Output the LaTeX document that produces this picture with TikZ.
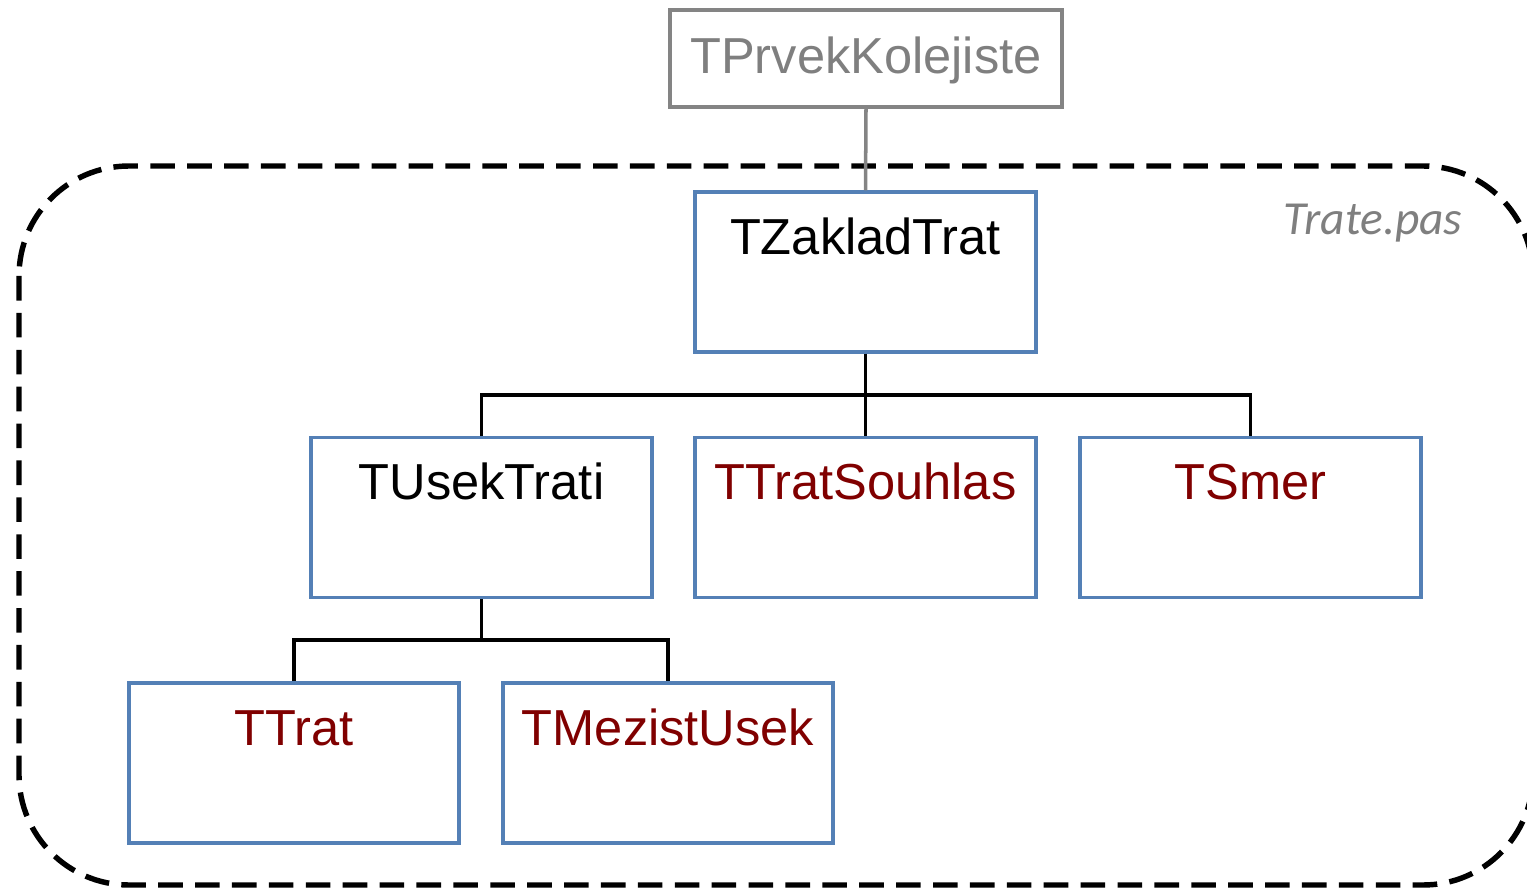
\documentclass[tikz,border=0pt]{standalone}
\usepackage{fontspec}
\setmainfont{Liberation Sans}
\newfontfamily\notefont{Carlito}
\definecolor{boxblue}{RGB}{84,128,182}
\definecolor{classred}{RGB}{128,0,0}
\definecolor{basegray}{RGB}{132,132,132}
\definecolor{notegray}{RGB}{127,127,127}
\begin{document}
\begin{tikzpicture}[x=0.02cm,y=-0.02cm,
  cls/.style={draw=boxblue, line width=2pt, inner sep=0pt,
    minimum width=6.82cm, minimum height=3.2cm},
  leaf/.style={cls, minimum width=6.6cm},
  basecls/.style={draw=basegray, line width=2pt, inner sep=0pt,
    minimum width=7.84cm, minimum height=1.94cm},
  clsname/.style={anchor=base, inner sep=0pt,
    font=\fontsize{28.8}{34}\selectfont},
  tree/.style={draw=black, line width=2pt},
  unitframe/.style={draw=black, line width=3.1pt,
    dash pattern=on 14pt off 7pt, rounded corners=2.2cm}
]
\useasboundingbox (0,0) rectangle (1527,888);

% unit boundary (Trate.pas)
\draw[unitframe] (19,166) rectangle (1533,885);
\node[anchor=base, inner sep=0pt, text=notegray,
  font=\notefont\itshape\fontsize{27}{32}\selectfont] (unit) at (1373,235) {Trate.pas};

% class boxes
\node[basecls] (pk) at (866,58.5) {};
\node[clsname, text=notegray] (pkT) at (866,74) {TPrvekKolejiste};

\node[cls] (zt) at (865.5,272) {};
\node[clsname] (ztT) at ([yshift=-1.28cm]zt.north) {TZakladTrat};

\node[cls] (us) at (481.5,517.5) {};
\node[clsname] (usT) at ([yshift=-1.27cm]us.north) {TUsekTrati};

\node[cls] (ts) at (865.5,517.5) {};
\node[clsname, text=classred] (tsT) at ([yshift=-1.27cm]ts.north) {TTratSouhlas};

\node[cls] (sm) at (1250.5,517.5) {};
\node[clsname, text=classred] (smT) at ([yshift=-1.27cm]sm.north) {TSmer};

\node[leaf] (tr) at (294,763) {};
\node[clsname, text=classred] (trT) at ([yshift=-1.28cm]tr.north) {TTrat};

\node[leaf] (mu) at (668,763) {};
\node[clsname, text=classred] (muT) at ([yshift=-1.28cm]mu.north) {TMezistUsek};

% inheritance connectors
\draw[draw=basegray, line width=2pt] (pk.south) -- (zt.north);

\coordinate (j1) at (865.5,395);
\draw[tree] (zt.south) -- (j1);
\draw[tree] (us.north) |- (j1) -| (sm.north);
\draw[tree] (j1) -- (ts.north);

\coordinate (j2) at (481.5,640);
\draw[tree] (us.south) -- (j2);
\draw[tree] (tr.north) |- (j2) -| (mu.north);
\end{tikzpicture}
\end{document}
